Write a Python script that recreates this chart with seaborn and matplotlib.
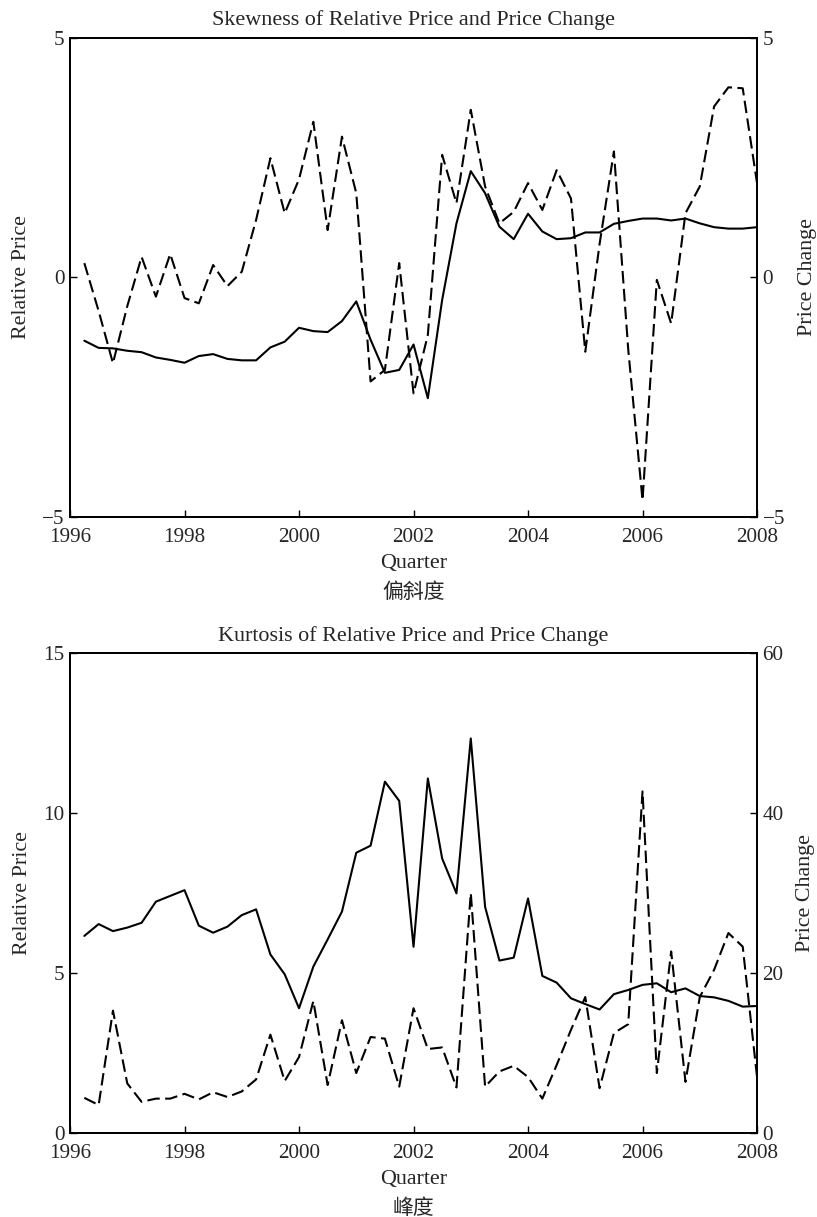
import numpy as np
import pandas as pd
import matplotlib
matplotlib.use("Agg")
import matplotlib.pyplot as plt
import seaborn as sns

# Quarterly observations, 1996Q1 .. 2007Q4 (plotted at quarter end)
quarters = [1996.25 + 0.25 * i for i in range(48)]

skew_relative = [
    -1.32, -1.47, -1.48, -1.53, -1.56, -1.67, -1.72, -1.78, -1.64, -1.60,
    -1.70, -1.73, -1.73, -1.46, -1.34, -1.05, -1.12, -1.14, -0.91, -0.50,
    -1.30, -1.99, -1.93, -1.40, -2.52, -0.47, 1.13, 2.22, 1.76, 1.06,
    0.80, 1.33, 0.96, 0.80, 0.82, 0.94, 0.94, 1.12, 1.18, 1.23,
    1.23, 1.19, 1.23, 1.13, 1.05, 1.02, 1.02, 1.05,
]
skew_change = [
    0.30, -0.70, -1.79, -0.60, 0.43, -0.40, 0.49, -0.43, -0.54, 0.26,
    -0.18, 0.12, 1.20, 2.49, 1.34, 2.05, 3.25, 0.99, 2.94, 1.76,
    -2.17, -1.93, 0.30, -2.42, -1.20, 2.56, 1.55, 3.50, 1.90, 1.13,
    1.37, 1.97, 1.41, 2.24, 1.65, -1.55, 0.70, 2.63, -1.50, -4.65,
    -0.05, -0.96, 1.34, 1.90, 3.57, 3.97, 3.95, 1.97,
]
kurt_relative = [
    6.16, 6.53, 6.31, 6.42, 6.57, 7.23, 7.41, 7.59, 6.48, 6.26,
    6.45, 6.81, 6.99, 5.58, 4.96, 3.90, 5.20, 6.05, 6.92, 8.76,
    8.98, 10.98, 10.38, 5.82, 11.08, 8.58, 7.49, 12.33, 7.07, 5.39,
    5.48, 7.33, 4.91, 4.70, 4.21, 4.03, 3.86, 4.34, 4.47, 4.63,
    4.68, 4.40, 4.52, 4.28, 4.24, 4.13, 3.95, 3.97,
]
kurt_change = [
    4.4, 3.5, 15.3, 6.2, 3.9, 4.3, 4.3, 4.9, 4.2, 5.1,
    4.5, 5.2, 6.7, 12.3, 6.5, 9.5, 16.5, 6.0, 14.1, 7.5,
    12.0, 11.8, 5.8, 15.6, 10.5, 10.7, 5.7, 30.0, 5.8, 7.7,
    8.4, 7.0, 4.3, 8.5, 12.9, 17.0, 5.6, 12.5, 13.6, 42.7,
    7.5, 22.7, 6.4, 17.0, 20.4, 25.0, 23.3, 7.0,
]

x_ticks = [1996, 1998, 2000, 2002, 2004, 2006, 2008]

panels = [
    dict(title="Skewness of Relative Price and Price Change", caption="偏斜度",
         left=skew_relative, right=skew_change,
         left_lim=(-5, 5), left_ticks=[-5, 0, 5],
         right_lim=(-5, 5), right_ticks=[-5, 0, 5]),
    dict(title="Kurtosis of Relative Price and Price Change", caption="峰度",
         left=kurt_relative, right=kurt_change,
         left_lim=(0, 15), left_ticks=[0, 5, 10, 15],
         right_lim=(0, 60), right_ticks=[0, 20, 40, 60]),
]

sns.set_style("ticks")
plt.rcParams["font.family"] = ["Liberation Serif", "Noto Sans CJK SC", "DejaVu Sans"]
plt.rcParams["axes.unicode_minus"] = True
plt.rcParams["xtick.direction"] = "in"
plt.rcParams["ytick.direction"] = "in"

TICK_FS = 15.2
LABEL_FS = 15.8
TITLE_FS = 15.9
fig = plt.figure(figsize=(8.17, 12.17), dpi=100)
boxes = [[0.0857, 0.5752, 0.8409, 0.3936], [0.0857, 0.0690, 0.8409, 0.3944]]

for box, p in zip(boxes, panels):
    ax = fig.add_axes(box)
    df = pd.DataFrame({"Quarter": quarters, "Relative": p["left"], "Change": p["right"]})
    sns.lineplot(data=df, x="Quarter", y="Relative", ax=ax, color="black", lw=1.5)
    ax2 = ax.twinx()
    sns.lineplot(data=df, x="Quarter", y="Change", ax=ax2, color="black", lw=1.5,
                 dashes=False)
    ax2.lines[0].set_dashes((6, 2.6))

    ax.set_xlim(1996, 2008)
    ax.set_xticks(x_ticks)
    ax.set_ylim(*p["left_lim"])
    ax.set_yticks(p["left_ticks"])
    ax2.set_ylim(*p["right_lim"])
    ax2.set_yticks(p["right_ticks"])

    for a in (ax, ax2):
        a.tick_params(labelsize=TICK_FS, length=5, width=1, color="black", pad=4)
        for s in a.spines.values():
            s.set_color("black")
            s.set_linewidth(1.3)
    ax.tick_params(axis="x", pad=8)
    for lbl in ax.get_yticklabels() + ax2.get_yticklabels():
        lbl.set_va("center_baseline")

    ax.set_title(p["title"], fontsize=TITLE_FS, pad=9)
    ax.set_ylabel("Relative Price", fontsize=LABEL_FS, labelpad=8)
    ax2.set_ylabel("Price Change", fontsize=LABEL_FS, labelpad=9)
    ax.set_xlabel("Quarter", fontsize=LABEL_FS, labelpad=5)
    ax.text(0.5, -0.156, p["caption"], transform=ax.transAxes, ha="center", va="center",
            fontsize=15, family=["Noto Sans CJK SC", "DejaVu Sans"])

fig.savefig("out.png", dpi=100, facecolor="white")
